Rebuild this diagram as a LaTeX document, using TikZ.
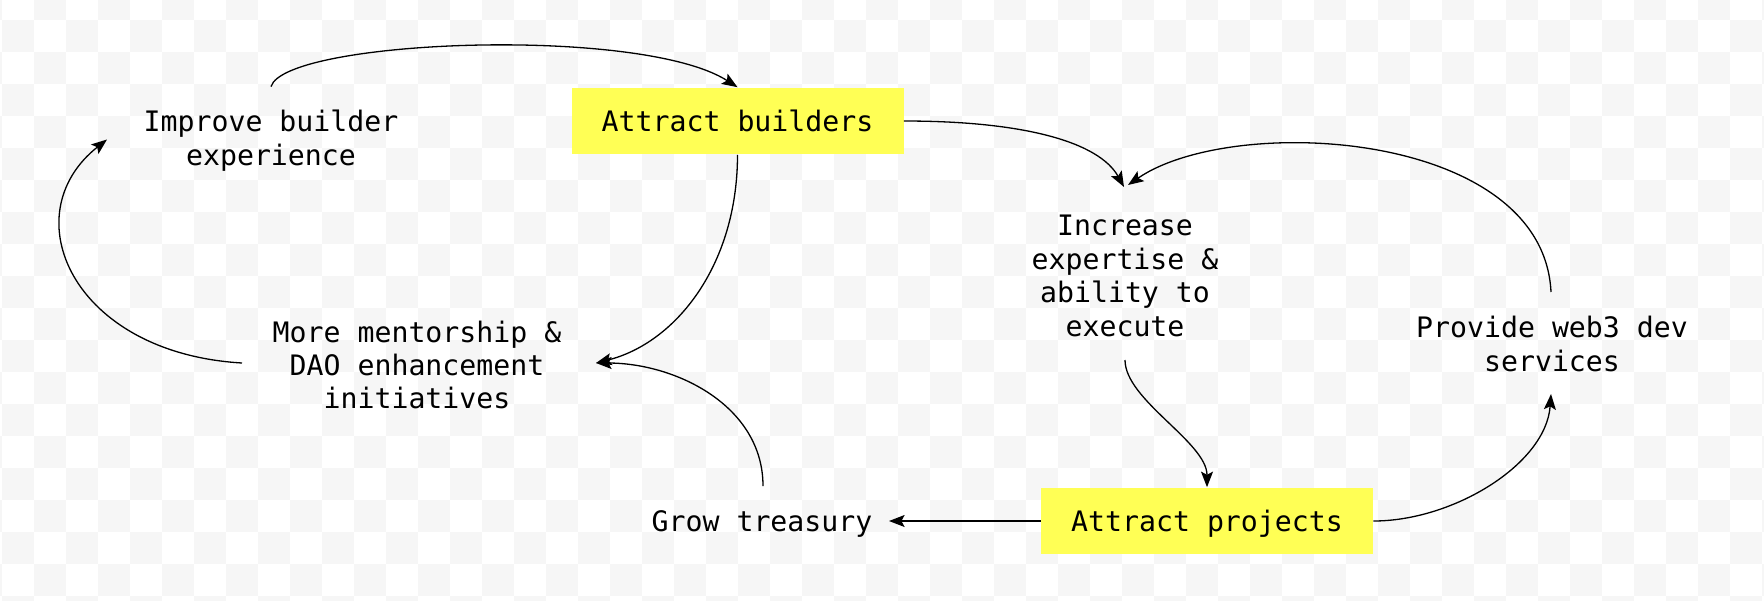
\documentclass[tikz,border=0pt]{standalone}
\usepackage{fontspec}
\newfontfamily\diagfont{DejaVu Sans Mono}
\usetikzlibrary{arrows.meta,calc}
\definecolor{boxyellow}{HTML}{FFFF55}
\definecolor{checker}{HTML}{F6F6F6}

\begin{document}
\begin{tikzpicture}[x=0.5pt,y=-0.5pt,
  txt/.style={font=\diagfont\fontsize{14.1pt}{16.7pt}\selectfont, align=center, inner sep=0pt},
  hibox/.style={txt, text depth=0pt, fill=boxyellow, minimum width=166pt, minimum height=33.4pt},
  flow/.style={line width=0.65pt, -{Stealth[length=7.8pt,width=6pt,inset=1.6pt]}}]

% canvas and checkered backdrop
\useasboundingbox (0,0) rectangle (1764,600);
\fill[white] (0,0) rectangle (1764,600);
\begin{scope}
  \clip (0,0) rectangle (1764,600);
  \foreach \i in {-1,...,55}{
    \foreach \j in {-1,...,18}{
      \pgfmathtruncatemacro\cellparity{\i+\j+2}
      \ifodd\cellparity\else
        \fill[checker] (2+32*\i,20+32*\j) rectangle +(32,32);
      \fi
    }
  }
\end{scope}

% nodes
\node[hibox] (ab) at (737.5,121) {Attract builders};
\node[hibox] (ap) at (1207,521) {Attract projects};
\node[txt] (imp) at (271,140.5) {Improve builder\\experience};
\node[txt] (inc) at (1125,276) {Increase\\expertise \&\\ability to\\execute};
\node[txt] (prov) at (1552,344) {Provide web3 dev\\services};
\node[txt] (more) at (417,365) {More mentorship \&\\DAO enhancement\\initiatives};
\node[txt, text depth=0pt] (grow) at (762,521) {Grow treasury};

% connectors
\draw[flow] ($(imp.center)+(0,-53.9)$) .. controls +(14,-47) and +(-97,-62) .. (ab.north);
\draw[flow] (ab.east) .. controls +(120,0) and +(-25,-45) .. ($(inc.center)+(-1,-89)$);
\draw[flow] ($(prov.center)+(-1,-52)$) .. controls +(-8,-162) and +(105,-72) .. ($(inc.center)+(3,-91)$);
\draw[flow] ($(inc.center)+(0,84)$) .. controls +(0,40) and +(0,-45) .. (ap.north);
\draw[flow] (ap.east) .. controls +(80,0) and +(-5,70) .. ($(prov.center)+(-1,50)$);
\draw[flow] (ap.west) -- ($(grow.center)+(127,0)$);
\draw[flow] ($(grow.center)+(1,-35)$) .. controls +(0,-80) and +(80,0) .. ($(more.center)+(179,-2)$);
\draw[flow] (ab.south) .. controls +(0,110) and +(80,-20) .. ($(more.center)+(179,-2)$);
\draw[flow] ($(more.center)+(-175,-2)$) .. controls +(-170,-10) and +(-95,75) .. ($(imp.center)+(-164,-1)$);
\end{tikzpicture}
\end{document}
